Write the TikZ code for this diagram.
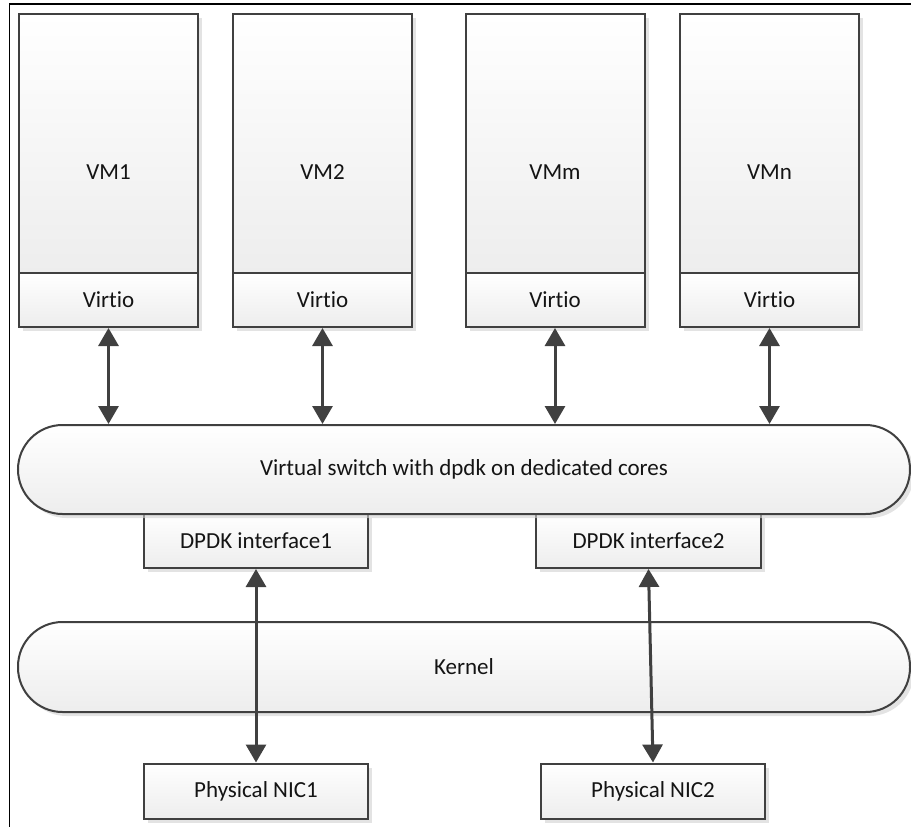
\documentclass[tikz,border=0pt]{standalone}
\usepackage{fontspec}
\setmainfont{Carlito}[Ligatures=NoCommon]
\usetikzlibrary{arrows.meta,shadows}
\definecolor{edge}{HTML}{404040}
\tikzset{
  box/.style={draw=edge, line width=2pt, top color=white, bottom color=black!7,
    inner sep=0pt, font=\fontsize{23}{27}\selectfont, text=black!92,
    drop shadow={shadow xshift=4pt, shadow yshift=-4pt, fill=black!18, opacity=0.6}},
  stadium/.style={box, rounded corners=44.5pt},
  biarrow/.style={draw=edge, line width=3pt,
    {Triangle[length=18pt,width=20pt]}-{Triangle[length=18pt,width=20pt]}},
  lbl/.style={font=\fontsize{23}{27}\selectfont, text=black!92}
}
\begin{document}
\begin{tikzpicture}[x=1pt,y=-1pt]
\useasboundingbox (0,0) rectangle (911,827);
\draw[black, line width=1.2pt] (9.5,827) -- (9.5,4) -- (911,4);

% VMs
\foreach \n/\cx/\name in {vma/108.5/VM1, vmb/322.5/VM2, vmc/555/VMm, vmd/769.5/VMn}{
  \node[box, minimum width=179pt, minimum height=259pt] (\n) at (\cx,143.5) {};
  \node[lbl] (\n t) at (\cx,172) {\name};
  \node[box, minimum width=179pt, minimum height=54pt] (\n v) at (\cx,300) {Virtio};
}

% switch and DPDK interfaces
\node[box, minimum width=224pt, minimum height=54pt] (d1) at (256,541) {DPDK interface1};
\node[box, minimum width=225pt, minimum height=54pt] (d2) at (648.5,541) {DPDK interface2};
\node[stadium, minimum width=892pt, minimum height=89pt] (sw) at (464,469.5)
  {Virtual switch with dpdk on dedicated cores};

% kernel
\node[stadium, minimum width=892pt, minimum height=90pt] (k) at (464,667) {Kernel};

% NICs
\node[box, minimum width=224pt, minimum height=55pt] (n1) at (256,791) {Physical NIC1};
\node[box, minimum width=224pt, minimum height=55pt] (n2) at (653,791) {Physical NIC2};

% arrows
\foreach \n in {vma,vmb,vmc,vmd}{
  \draw[biarrow] (\n v.south) -- (\n v.south |- sw.north);
}
\draw[biarrow] (d1.south) -- (n1.north);
\draw[biarrow] (d2.south) -- (n2.north);
\end{tikzpicture}
\end{document}
